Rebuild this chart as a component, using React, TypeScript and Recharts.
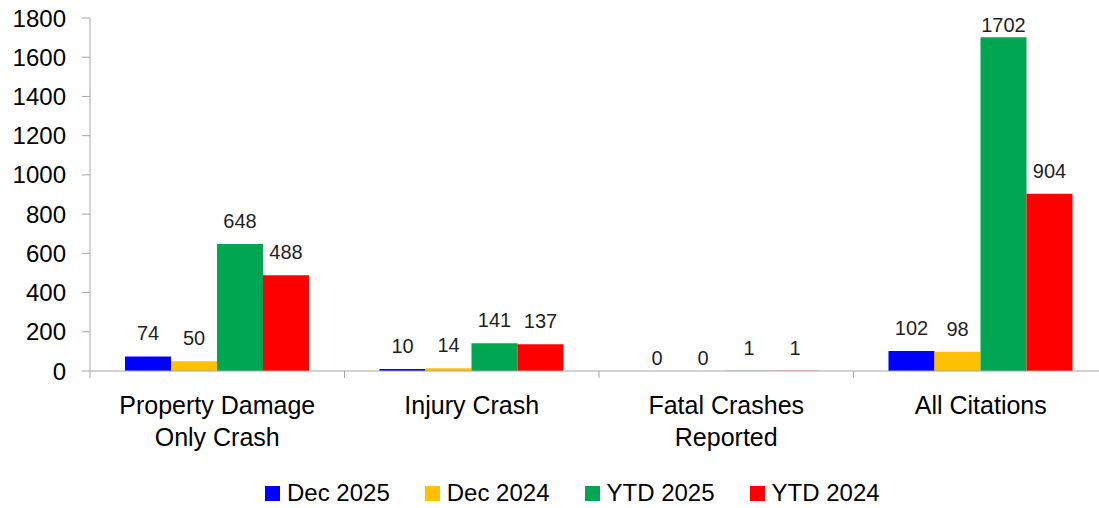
import { BarChart, Bar, XAxis, YAxis, Legend, LabelList } from "recharts";

const categories = [
  ["Property Damage", "Only Crash"],
  ["Injury Crash"],
  ["Fatal Crashes", "Reported"],
  ["All Citations"],
];
const dec2025 = [74, 10, 0, 102];
const dec2024 = [50, 14, 0, 98];
const ytd2025 = [648, 141, 1, 1702];
const ytd2024 = [488, 137, 1, 904];
const yTicks = [0, 200, 400, 600, 800, 1000, 1200, 1400, 1600, 1800];

const series = [
  { key: "dec2025", name: "Dec 2025", color: "#0000FF" },
  { key: "dec2024", name: "Dec 2024", color: "#FFC000" },
  { key: "ytd2025", name: "YTD 2025", color: "#00A651" },
  { key: "ytd2024", name: "YTD 2024", color: "#FF0000" },
];

const data = categories.map((lines, i) => ({
  id: lines.join(" "),
  lines,
  dec2025: dec2025[i],
  dec2024: dec2024[i],
  ytd2025: ytd2025[i],
  ytd2024: ytd2024[i],
}));

const FONT = "'Liberation Sans', Arial, sans-serif";
const AXIS = "#a6a6a6";
const W = 1110;
const H = 508;
const LEFT = 90;
const RIGHT = 2;
const BAND = (W - LEFT - RIGHT) / categories.length;

// eslint-disable-next-line @typescript-eslint/no-explicit-any
const CategoryTick = ({ x, y, index }: any) => {
  const lines = categories[index] || [];
  return (
    <g>
      <line x1={x - BAND / 2} x2={x - BAND / 2} y1={y} y2={y + 7} stroke={AXIS} />
      {index === categories.length - 1 && (
        <line x1={x + BAND / 2} x2={x + BAND / 2} y1={y} y2={y + 7} stroke={AXIS} />
      )}
      {lines.map((t: string, k: number) => (
        <text
          key={k}
          x={x}
          y={y + 34 + k * 32}
          textAnchor="middle"
          dominantBaseline="central"
          fontSize={25}
          fill="#000"
          fontFamily={FONT}
        >
          {t}
        </text>
      ))}
    </g>
  );
};

// labels sit above the bar, but are kept inside the plot like Excel does
// eslint-disable-next-line @typescript-eslint/no-explicit-any
const ValueLabel = ({ x, y, width, value }: any) => (
  <text
    x={x + width / 2}
    y={Math.max(25, y - (value === 0 ? 13 : 23))}
    textAnchor="middle"
    dominantBaseline="central"
    fontSize={20}
    fill="#1f1f1f"
    fontFamily={FONT}
  >
    {value}
  </text>
);

const LegendContent = () => (
  <div
    style={{
      height: 30,
      display: "flex",
      justifyContent: "flex-start",
      alignItems: "center",
      gap: 35,
      fontFamily: FONT,
      fontSize: 24,
      color: "#000",
      paddingLeft: 265,
    }}
  >
    {series.map((s) => (
      <div key={s.key} style={{ display: "flex", alignItems: "center" }}>
        <span
          style={{
            display: "inline-block",
            width: 15,
            height: 15,
            background: s.color,
            marginRight: 7,
          }}
        />
        {s.name}
      </div>
    ))}
  </div>
);

export default function App() {
  return (
    <div
      style={{
        position: "absolute",
        left: 0,
        top: 0,
        width: 1099,
        height: H,
        overflow: "hidden",
        background: "#fff",
      }}
    >
      <BarChart
        width={W}
        height={H}
        data={data}
        margin={{ top: 18, right: RIGHT, left: 0, bottom: 0 }}
        barCategoryGap={35}
        barGap={0}
      >
        <XAxis
          dataKey="id"
          height={107}
          stroke={AXIS}
          tickLine={false}
          tickSize={0}
          tickMargin={0}
          interval={0}
          tick={<CategoryTick />}
        />
        <YAxis
          width={LEFT}
          domain={[0, 1800]}
          ticks={yTicks}
          interval={0}
          stroke={AXIS}
          tickSize={8}
          tickMargin={16}
          tick={{ fill: "#000", fontSize: 24, fontFamily: FONT }}
        />
        <Legend verticalAlign="bottom" content={<LegendContent />} />
        {series.map((s) => (
          <Bar
            key={s.key}
            dataKey={s.key}
            name={s.name}
            fill={s.color}
            minPointSize={0.01}
            isAnimationActive={false}
          >
            <LabelList dataKey={s.key} content={<ValueLabel />} />
          </Bar>
        ))}
      </BarChart>
    </div>
  );
}
